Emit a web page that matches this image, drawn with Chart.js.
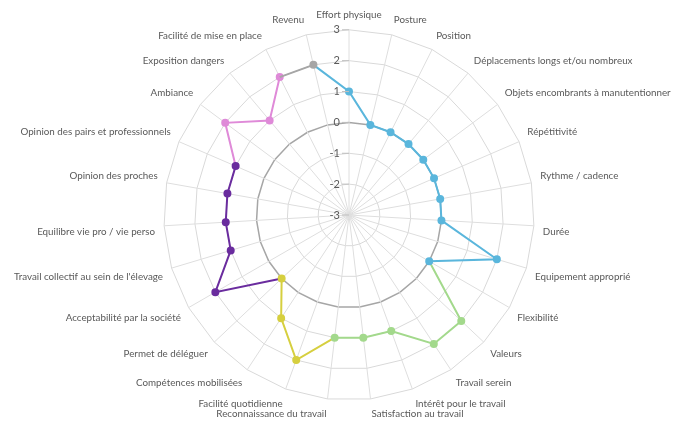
<!DOCTYPE html>
<html>
<head>
<meta charset="utf-8">
<script src="https://cdn.jsdelivr.net/npm/chart.js@4.4.1/dist/chart.umd.min.js"></script>
<style>
  html, body { margin: 0; padding: 0; background: #fff; }
  #wrap { width: 676px; height: 421px; }
</style>
</head>
<body>
<div id="wrap"><canvas id="radar"></canvas></div>
<script>
const criteres = [
  'Effort physique', 'Posture', 'Position', 'Déplacements longs et/ou nombreux',
  'Objets encombrants à manutentionner', 'Répétitivité', 'Rythme / cadence', 'Durée',
  'Equipement approprié', 'Flexibilité', 'Valeurs', 'Travail serein',
  'Intérêt pour le travail', 'Satisfaction au travail', 'Reconnaissance du travail',
  'Facilité quotidienne', 'Compétences mobilisées', 'Permet de déléguer',
  'Acceptabilité par la société', "Travail collectif au sein de l'élevage",
  'Equilibre vie pro / vie perso', 'Opinion des proches',
  'Opinion des pairs et professionnels', 'Ambiance', 'Exposition dangers',
  'Facilité de mise en place', 'Revenu'
];
const graduations = [-3, -2, -1, 0, 1, 2, 3];

const n = null;
// each group also carries the last point of the previous group (no marker there)
const physique     = [1, 0, 0, 0, 0, 0, 0, 0, 2, 0, n, n, n, n, n, n, n, n, n, n, n, n, n, n, n, n, 2];
const bienEtre     = [n, n, n, n, n, n, n, n, n, 0, 2, 2, 1, 1, 1, n, n, n, n, n, n, n, n, n, n, n, n];
const organisation = [n, n, n, n, n, n, n, n, n, n, n, n, n, n, 1, 2, 1, 0, n, n, n, n, n, n, n, n, n];
const social       = [n, n, n, n, n, n, n, n, n, n, n, n, n, n, n, n, n, 0, 2, 1, 1, 1, 1, n, n, n, n];
const conditions   = [n, n, n, n, n, n, n, n, n, n, n, n, n, n, n, n, n, n, n, n, n, n, 1, 2, 1, 2, n];
const economie     = [n, n, n, n, n, n, n, n, n, n, n, n, n, n, n, n, n, n, n, n, n, n, n, n, n, 2, 2];

function serie(data, color, shared) {
  return {
    data: data,
    borderColor: color,
    backgroundColor: color,
    pointBackgroundColor: color,
    pointBorderColor: color,
    borderWidth: 2,
    fill: false,
    spanGaps: false,
    pointRadius: (ctx) => ctx.dataIndex === shared ? 0 : 3,
    pointHoverRadius: 4
  };
}

const tickLabelsPlugin = {
  id: 'tickLabels',
  afterDraw(chart) {
    const s = chart.scales.r;
    const ctx = chart.ctx;
    ctx.save();
    ctx.font = '11px Lato';
    ctx.fillStyle = '#595959';
    ctx.textAlign = 'right';
    ctx.textBaseline = 'middle';
    ctx.strokeStyle = '#bfbfbf';
    ctx.lineWidth = 1;
    s.ticks.forEach((t) => {
      const y = s.yCenter - s.getDistanceFromCenterForValue(t.value);
      ctx.fillText(String(t.value), s.xCenter - 9, y);
      ctx.beginPath();
      ctx.moveTo(s.xCenter - 7, y);
      ctx.lineTo(s.xCenter, y);
      ctx.stroke();
    });
    ctx.restore();
  }
};

new Chart(document.getElementById('radar'), {
  type: 'radar',
  data: {
    labels: criteres,
    datasets: [
      serie(economie, '#a6a6a6', 25),
      serie(physique, '#5ab6dc', 26),
      serie(bienEtre, '#a3d98c', 9),
      serie(organisation, '#d6cf3f', 14),
      serie(social, '#6a2c9e', 17),
      serie(conditions, '#df8ad8', 22)
    ]
  },
  options: {
    responsive: true,
    maintainAspectRatio: false,
    animation: false,
    layout: { padding: { top: 9, bottom: -15, left: 6, right: -3 } },
    plugins: {
      legend: { display: false },
      tooltip: { enabled: false }
    },
    scales: {
      r: {
        min: graduations[0],
        max: graduations[graduations.length - 1],
        ticks: { stepSize: 1, display: false },
        grid: {
          color: (ctx) => ctx.tick && ctx.tick.value === 0 ? '#a6a6a6' : '#d9d9d9',
          lineWidth: (ctx) => ctx.tick && ctx.tick.value === 0 ? 1.5 : 1
        },
        angleLines: { color: '#dedede', lineWidth: 1 },
        pointLabels: {
          color: '#595959',
          padding: 9,
          font: { family: 'Lato', size: 9.8 }
        }
      }
    }
  },
  plugins: [tickLabelsPlugin]
});
</script>
</body>
</html>
